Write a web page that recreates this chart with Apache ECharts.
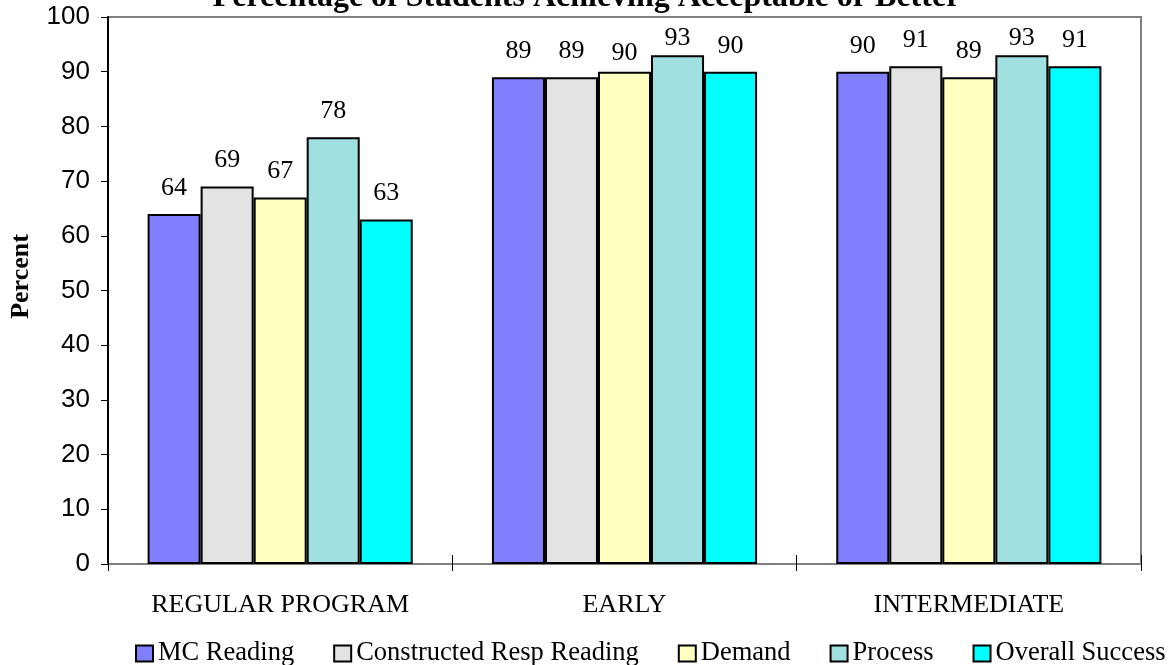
<!DOCTYPE html>
<html>
<head>
<meta charset="utf-8">
<script src="https://cdn.jsdelivr.net/npm/echarts@6/dist/echarts.min.js"></script>
<style>
  html, body { margin: 0; padding: 0; background: #fff; }
  #chart { width: 1173px; height: 665px; }
</style>
</head>
<body>
<div id="chart"></div>
<script>
// Program groups along the category axis
const programs = ['REGULAR PROGRAM', 'EARLY', 'INTERMEDIATE'];

// Percent of students at acceptable or better, per measure
const mcReading = [64, 89, 90];
const constructedResp = [69, 89, 91];
const demand = [67, 90, 89];
const process = [78, 93, 93];
const overallSuccess = [63, 90, 91];

const seriesNames = ['MC Reading', 'Constructed Resp Reading', 'Demand', 'Process', 'Overall Success'];
const seriesColors = ['#8080FF', '#E3E3E3', '#FFFFC0', '#A0E0E0', '#00FFFF'];
const seriesValues = [mcReading, constructedResp, demand, process, overallSuccess];

// Vertical nudges (px) for value labels that would crowd the top border
const labelNudge = [
  [0, 0, 0],
  [0, 0, 0],
  [0, 7, 0],
  [0, 9, 9],
  [0, 0, 0]
];

const serif = '"Liberation Serif", "Times New Roman", serif';
const sans = '"Liberation Sans", Arial, sans-serif';

const chart = echarts.init(document.getElementById('chart'), null, { renderer: 'canvas' });

const series = seriesNames.map((name, i) => ({
  name,
  type: 'bar',
  data: seriesValues[i].map((v, j) => ({
    value: v,
    label: { offset: [0, labelNudge[i][j]] }
  })),
  barGap: '0%',
  barCategoryGap: '23%',
  itemStyle: { color: seriesColors[i], borderColor: '#000', borderWidth: 2 },
  label: {
    show: true,
    position: 'top',
    distance: 13,
    color: '#000',
    fontFamily: serif,
    fontSize: 26
  }
}));

chart.setOption({
  animation: false,
  title: {
    text: 'Percentage of Students Achieving Acceptable or Better',
    left: 'center',
    top: -23,
    textStyle: { fontFamily: serif, fontWeight: 'bold', fontSize: 32, color: '#000' }
  },
  grid: {
    left: 108, right: 32, top: 17, bottom: 101,
    show: true,
    borderColor: '#808080',
    borderWidth: 2,
    backgroundColor: '#fff'
  },
  legend: {
    bottom: -7,
    left: 130,
    itemWidth: 17,
    itemHeight: 16,
    itemGap: 39,
    icon: 'rect',
    textStyle: { fontFamily: serif, fontSize: 26.5, color: '#000' },
    itemStyle: { borderColor: '#000', borderWidth: 2 },
    data: seriesNames
  },
  xAxis: [{
    type: 'category',
    data: programs,
    axisLine: { lineStyle: { color: '#808080', width: 2 } },
    axisTick: { show: true, alignWithLabel: false, length: 7, lineStyle: { color: '#000', width: 1 } },
    axisLabel: { margin: 28, fontFamily: serif, fontSize: 26, color: '#000' }
  }, {
    type: 'category',
    data: programs,
    position: 'bottom',
    axisLine: { show: false },
    axisTick: { show: true, inside: true, length: 9, lineStyle: { color: '#000', width: 1 } },
    axisLabel: { show: false }
  }],
  yAxis: {
    type: 'value',
    min: 0,
    max: 100,
    interval: 10,
    name: 'Percent',
    nameLocation: 'middle',
    nameGap: 74,
    nameTextStyle: { fontFamily: serif, fontWeight: 'bold', fontSize: 26, color: '#000', padding: [0, 0, 0, 28] },
    axisLine: { show: true, lineStyle: { color: '#000', width: 2 } },
    axisTick: { show: true, length: 7, lineStyle: { color: '#000', width: 1 } },
    axisLabel: { margin: 18, fontFamily: sans, fontSize: 26, color: '#000' },
    splitLine: { show: false }
  },
  series
});
</script>
</body>
</html>
